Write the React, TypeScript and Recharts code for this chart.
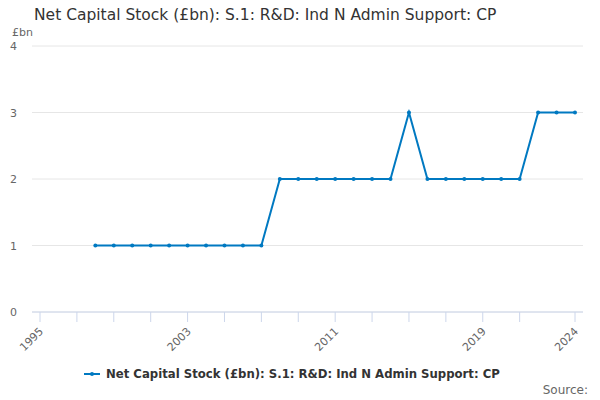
import { CartesianGrid, Line, LineChart, XAxis, YAxis } from "recharts";

const title = "Net Capital Stock (£bn): S.1: R&D: Ind N Admin Support: CP";
const seriesName = "Net Capital Stock (£bn): S.1: R&D: Ind N Admin Support: CP";

const years = [
  1998, 1999, 2000, 2001, 2002, 2003, 2004, 2005, 2006, 2007,
  2008, 2009, 2010, 2011, 2012, 2013, 2014, 2015, 2016, 2017,
  2018, 2019, 2020, 2021, 2022, 2023, 2024,
];
const values = [
  1, 1, 1, 1, 1, 1, 1, 1, 1, 1,
  2, 2, 2, 2, 2, 2, 2, 3, 2, 2,
  2, 2, 2, 2, 3, 3, 3,
];
const xTicks = [1995, 1997, 1999, 2001, 2003, 2005, 2007, 2009, 2011, 2013, 2015, 2017, 2019, 2021, 2024];
const xLabels = [1995, 2003, 2011, 2019, 2024];
const yTicks = [0, 1, 2, 3, 4];

const data = years.map((year, i) => ({ year, value: values[i] }));

const font = '"DejaVu Sans", Verdana, sans-serif';
const blue = "#0079c1";

function XTick({ x, y, payload }: any) {
  if (!xLabels.includes(payload.value)) return null;
  return (
    <text
      x={0}
      y={0}
      transform={`translate(${x + 4},${y + 8}) rotate(-45)`}
      textAnchor="end"
      fontSize={11}
      fill="#666"
      fontFamily={font}
    >
      {payload.value}
    </text>
  );
}

function YTick({ y, payload }: any) {
  return (
    <text x={10} y={y + 4} fontSize={11} fill="#666" fontFamily={font}>
      {payload.value}
    </text>
  );
}

export default function App() {
  return (
    <div style={{ position: "fixed", left: 0, top: 0, width: 600, height: 400, background: "#fff", fontFamily: font }}>
      <div style={{ position: "absolute", top: 6, left: 34, whiteSpace: "nowrap", fontSize: 15.5, color: "#333" }}>
        {title}
      </div>
      <div style={{ position: "absolute", top: 26, left: 12, fontSize: 11, color: "#666" }}>£bn</div>
      <LineChart width={600} height={400} data={data} margin={{ top: 46, right: 17, bottom: 58, left: 0 }}>
        <CartesianGrid vertical={false} stroke="#e6e6e6" />
        <XAxis
          dataKey="year"
          type="number"
          domain={[1995, 2024]}
          ticks={xTicks}
          interval={0}
          height={30}
          padding={{ left: 8, right: 8 }}
          stroke="#ccd6eb"
          tickSize={10}
          tick={<XTick />}
        />
        <YAxis
          width={32}
          domain={[0, 4]}
          ticks={yTicks}
          axisLine={false}
          tickLine={false}
          tick={<YTick />}
        />
        <Line
          dataKey="value"
          stroke={blue}
          strokeWidth={2}
          dot={{ r: 2, fill: blue, stroke: blue, strokeWidth: 0 }}
          activeDot={false}
          isAnimationActive={false}
        />
      </LineChart>
      <div
        style={{
          position: "absolute",
          top: 367,
          left: 84,
          display: "flex",
          alignItems: "center",
          whiteSpace: "nowrap",
          fontSize: 11.7,
          fontWeight: "bold",
          color: "#333",
        }}
      >
        <svg width={16} height={10} style={{ marginRight: 6 }}>
          <line x1={0} y1={5} x2={16} y2={5} stroke={blue} strokeWidth={2} />
          <circle cx={8} cy={5} r={2} fill={blue} />
        </svg>
        {seriesName}
      </div>
      <div style={{ position: "absolute", top: 383, right: 12, fontSize: 12, color: "#666" }}>Source:</div>
    </div>
  );
}
